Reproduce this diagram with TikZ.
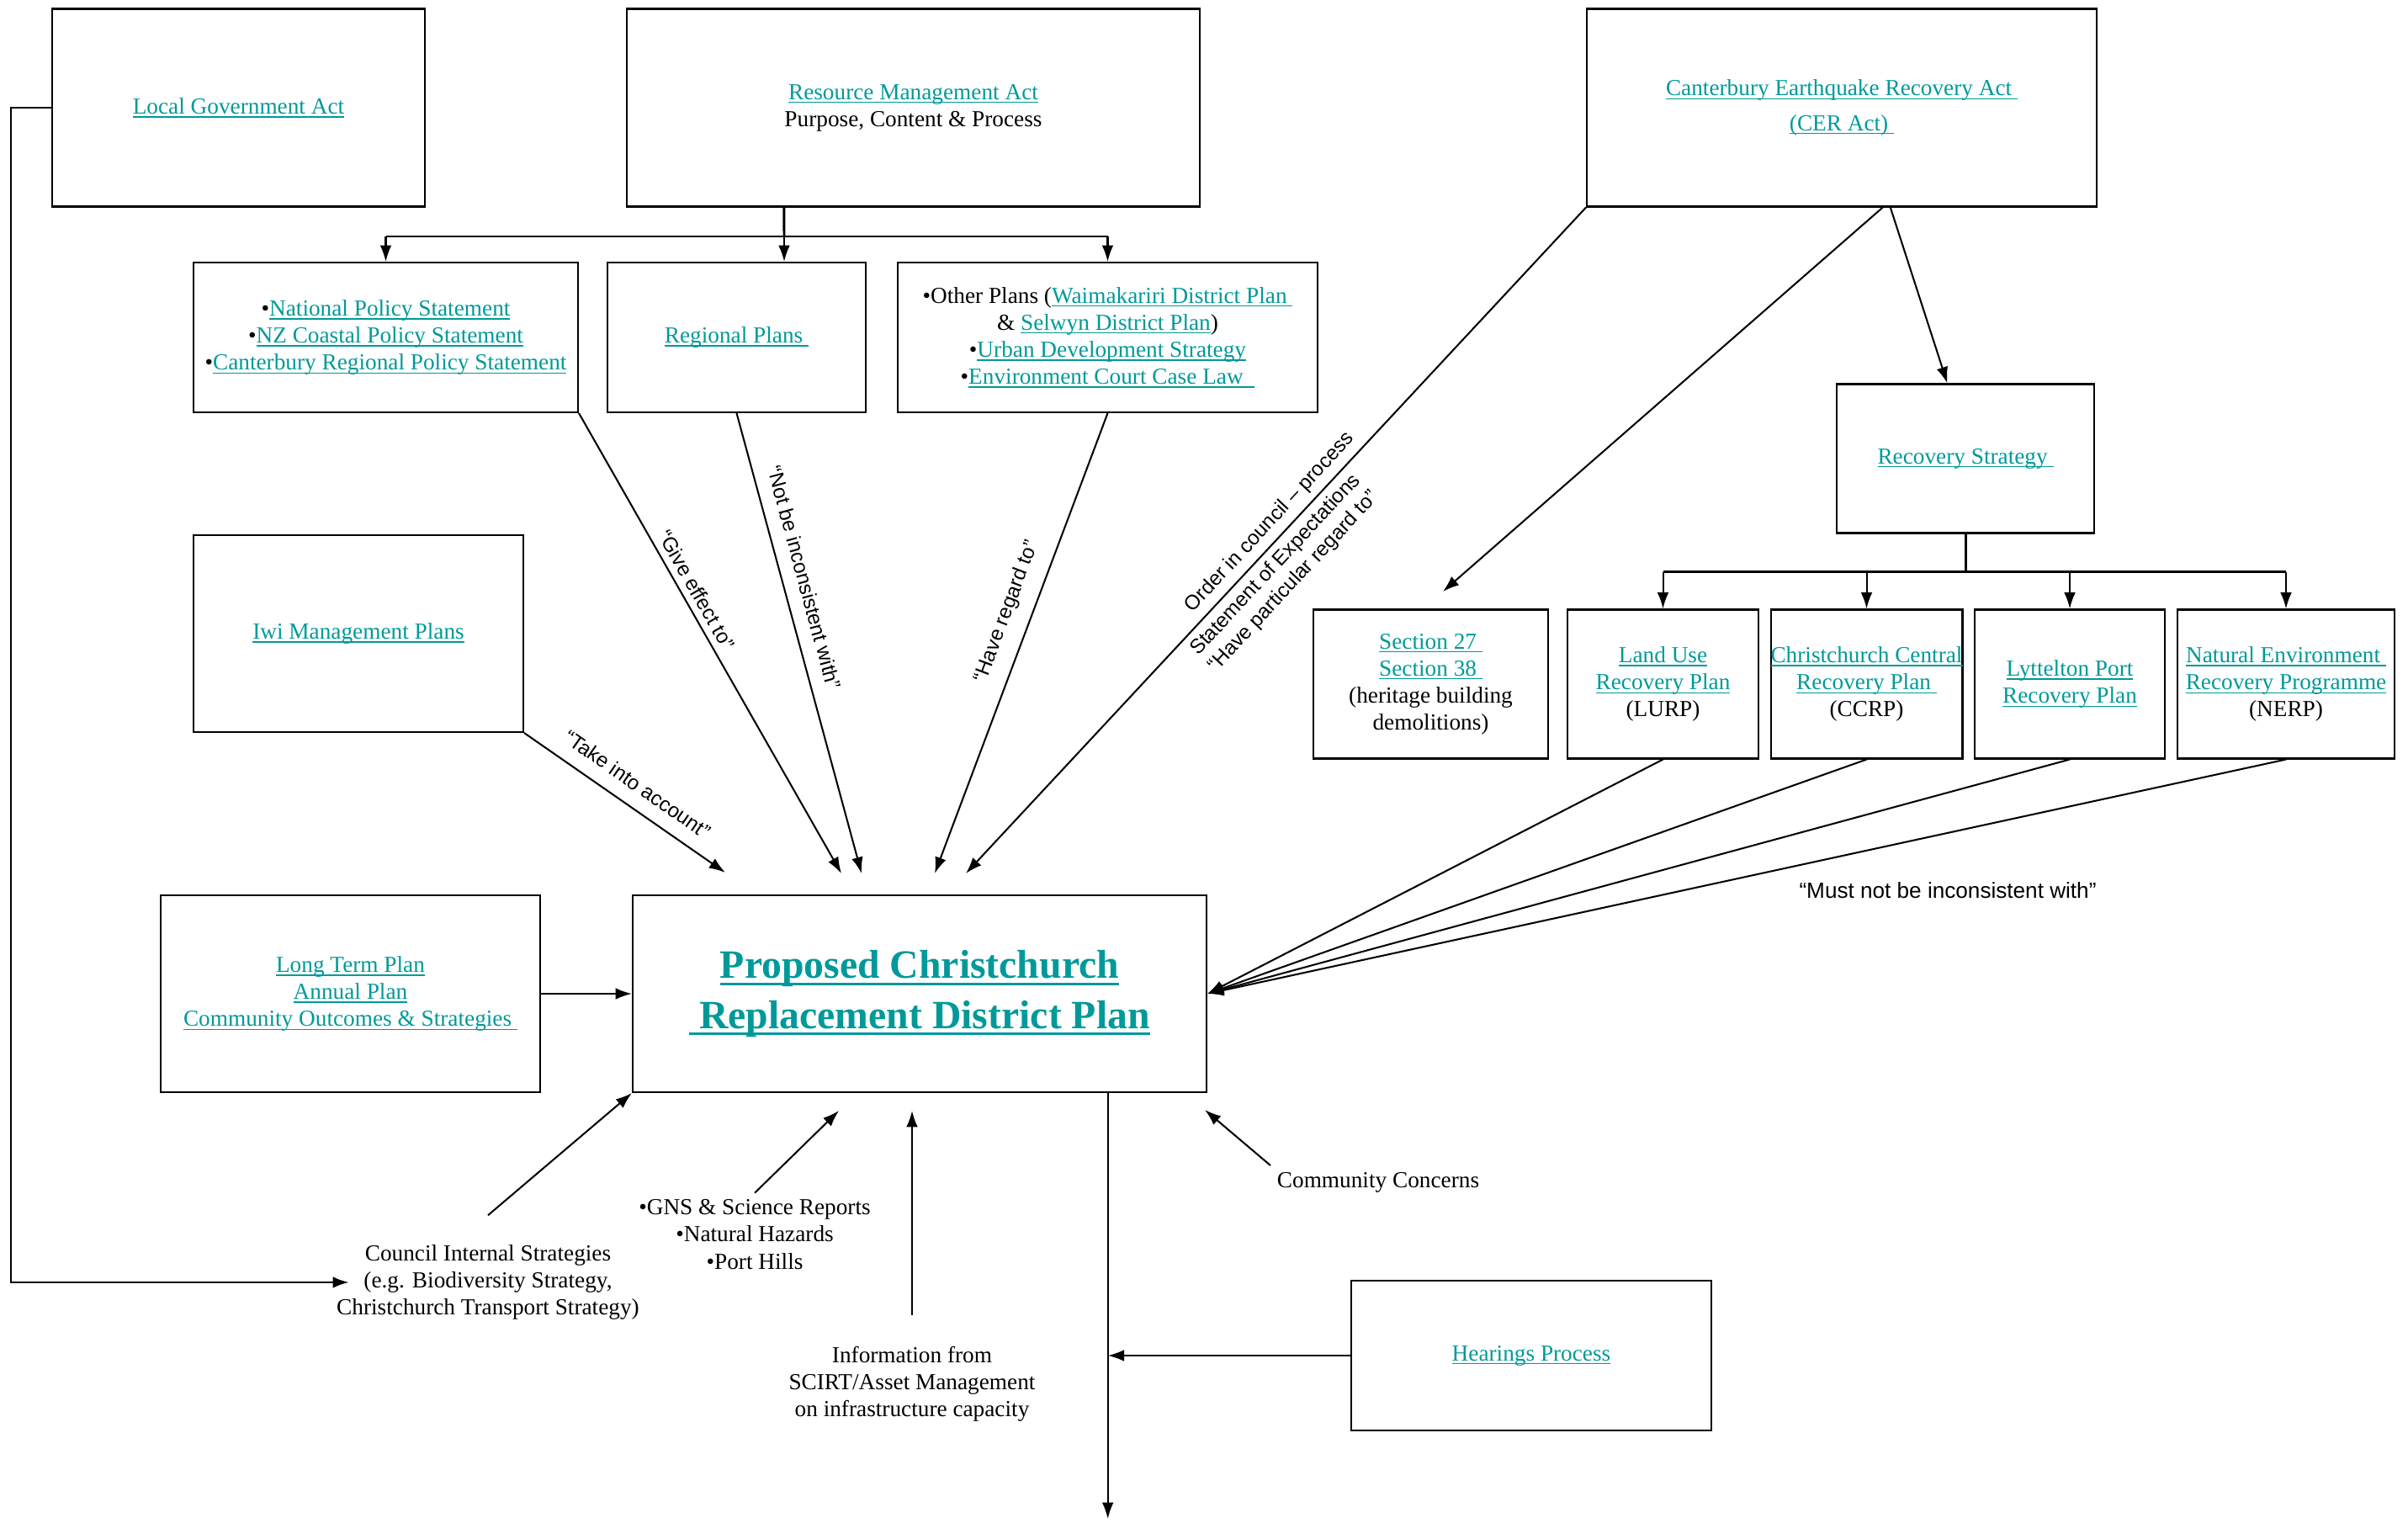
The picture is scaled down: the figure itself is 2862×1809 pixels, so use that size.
\documentclass[tikz,border=0pt]{standalone}
\usepackage{fontspec}
\setmainfont{Liberation Serif}
\newfontfamily\lblfont{Liberation Sans}
\usetikzlibrary{arrows.meta,calc}
\definecolor{linkc}{RGB}{0,153,153}
\newcommand{\lnk}[1]{\leavevmode{\color{linkc}\setbox0\hbox{#1}\rlap{\rule[-1.8pt]{\wd0}{0.5pt}}\box0}}
\newcommand{\biglnk}[1]{\leavevmode{\color{linkc}\setbox0\hbox{#1}\rlap{\rule[-3.6pt]{\wd0}{1.3pt}}\box0}}
\begin{document}
\begin{tikzpicture}[x=0.44pt,y=-0.44pt,
  box/.style 2 args={draw,line width=0.9pt,inner sep=0pt,align=center,
    minimum width=#1*0.44pt,minimum height=#2*0.44pt,font=\fontsize{12}{14.1}\selectfont},
  txt/.style={align=center,font=\fontsize{12}{14.1}\selectfont},
  lbl/.style={align=center,font=\lblfont\fontsize{10.7}{12.8}\selectfont},
  arr/.style={-{Latex[length=8.5pt,width=6pt]},line width=0.9pt},
  bus/.style={line width=1.3pt}]
\useasboundingbox (0,0) rectangle (2862,1809);

% acts
\node[box={443}{235}] (lga) at (283.5,128) {\lnk{Local Government Act}};
\node[box={681}{235}] (rma) at (1085.5,128) {\lnk{Resource Management Act}\\Purpose, Content \& Process};
\node[box={606}{235}] (cer) at (2189,128) {\lnk{Canterbury Earthquake Recovery Act\ }\\[4pt]\lnk{(CER Act)\ }};

% plans under the RMA
\node[box={457}{178}] (nps) at (458.5,401) {•\lnk{National Policy Statement}\\•\lnk{NZ Coastal Policy Statement}\\•\lnk{Canterbury Regional Policy Statement}};
\node[box={307}{178}] (reg) at (875.5,401) {\lnk{Regional Plans\ }};
\node[box={499}{178}] (oth) at (1316.5,401) {•Other Plans (\lnk{Waimakariri District Plan\ }\\\& \lnk{Selwyn District Plan})\\•\lnk{Urban Development Strategy}\\•\lnk{Environment Court Case Law\ \ }};
\node[box={392}{234}] (iwi) at (426,753) {\lnk{Iwi Management Plans}};

% recovery documents
\node[box={306}{177}] (rs) at (2336,545) {\lnk{Recovery Strategy\ }};
\node[box={279}{177}] (sec) at (1700.5,813) {\lnk{Section 27\ }\\\lnk{Section 38\ }\\(heritage building\\demolitions)};
\node[box={227}{177}] (lurp) at (1976.5,813) {\lnk{Land Use}\\\lnk{Recovery Plan}\\(LURP)};
\node[box={227}{177}] (ccrp) at (2218.5,813) {\lnk{Christchurch Central}\\\lnk{Recovery Plan\ }\\(CCRP)};
\node[box={226}{177}] (lyt) at (2460,813) {\lnk{Lyttelton Port}\\\lnk{Recovery Plan}};
\node[box={258}{177}] (nerp) at (2717,813) {\lnk{Natural Environment\ }\\\lnk{Recovery Programme}\\(NERP)};

% the district plan
\node[box={451}{234}] (ltp) at (416.5,1181) {\lnk{Long Term Plan}\\\lnk{Annual Plan}\\\lnk{Community Outcomes \& Strategies\ }};
\node[box={682}{234},font={\fontsize{21}{26}\selectfont\bfseries}] (main) at (1093,1181) {\biglnk{Proposed Christchurch}\\\biglnk{\ Replacement District Plan}};
\node[box={428}{178}] (hear) at (1820,1611) {\lnk{Hearings Process}};

\node[txt] (council) at (580,1524) {Council Internal Strategies\\(e.g. Biodiversity Strategy,\\Christchurch Transport Strategy)};
\node[txt] (gns) at (897,1467) {•GNS \& Science Reports\\•Natural Hazards\\•Port Hills};
\node[txt] (info) at (1084,1645) {Information from\\SCIRT/Asset Management\\on infrastructure capacity};
\node[txt] (comm) at (1638,1405) {Community Concerns};
\node[lbl,font=\lblfont\fontsize{11.5}{13.5}\selectfont] (must) at (2315,1058) {“Must not be inconsistent with”};

\coordinate (e1) at (862,1037);
\coordinate (e2) at (1000,1038);
\coordinate (e3) at (1024,1038);
\coordinate (e4) at (1111,1038);
\coordinate (e5) at (1148,1038);
\coordinate (esec) at (1715,703);
\coordinate (egns) at (997,1320);
\coordinate (einfo) at (1084,1320);
\coordinate (ecomm) at (1432,1319);
\coordinate (eout) at (1316,1805);
\coordinate (rbus) at (932,281);
\coordinate (rmaout) at ($(rma.south west)!0.275!(rma.south east)$);
\coordinate (cerA) at ($(cer.south west)!0.58!(cer.south east)$);
\coordinate (cerB) at ($(cer.south west)!0.595!(cer.south east)$);
\coordinate (rsin) at ($(rs.north west)!0.43!(rs.north east)$);
\coordinate (rsbus) at ($(rs.south)+(0,45)$);
\coordinate (mout) at ($(main.south west)!0.827!(main.south east)$);

% RMA
\draw[bus] (rmaout) -- (rbus);
\draw[bus] (nps.north |- rbus) -- (oth.north |- rbus);
\draw[arr] (rbus) -- (rbus |- reg.north);
\draw[arr] (nps.north |- rbus) -- (nps.north);
\draw[arr] (oth.north |- rbus) -- (oth.north);

% CER Act
\draw[arr] (cerA) -- (esec);
\draw[arr] (cerB) -- (rsin);
\draw[bus] (rs.south) -- (rsbus);
\draw[bus] (lurp.north |- rsbus) -- (nerp.north |- rsbus);
\foreach \p in {lurp,ccrp,lyt,nerp}
  \draw[arr] (\p.north |- rsbus) -- (\p.north);
\foreach \p in {lurp,ccrp,lyt,nerp}
  \draw[arr] (\p.south) -- (main.east);

% into the plan
\draw[arr] (iwi.south east) -- (e1) node[lbl,sloped,above=4pt,pos=0.5] {“Take into account”};
\draw[arr] (nps.south east) -- (e2) node[lbl,sloped,above,pos=0.4] {“Give effect to”};
\draw[arr] (reg.south) -- (e3) node[lbl,sloped,above=4pt,pos=0.37] {“Not be inconsistent with”};
\draw[arr] (oth.south) -- (e4) node[lbl,sloped,above=4pt,pos=0.45] {“Have regard to”};
\draw[arr] (cer.south west) -- (e5) node[lbl,sloped,above,pos=0.49] {Order in council – process}
  node[lbl,sloped,below,pos=0.52] {Statement of Expectations\\“Have particular regard to”};
\draw[arr] (ltp.east) -- (main.west);
\draw[arr,bus] (lga.west) -- ++(-48,0) |- ([xshift=10pt]council.west);
\draw[arr] ([yshift=12pt]council.north) -- (main.south west);
\draw[arr] (gns.north) -- (egns);
\draw[arr] ([yshift=13pt]info.north) -- (einfo);
\draw[arr] (comm.north west) -- (ecomm);
\draw[arr] (mout) -- (mout |- eout);
\draw[arr] (hear.west) -- (hear.west -| mout);
\end{tikzpicture}
\end{document}
